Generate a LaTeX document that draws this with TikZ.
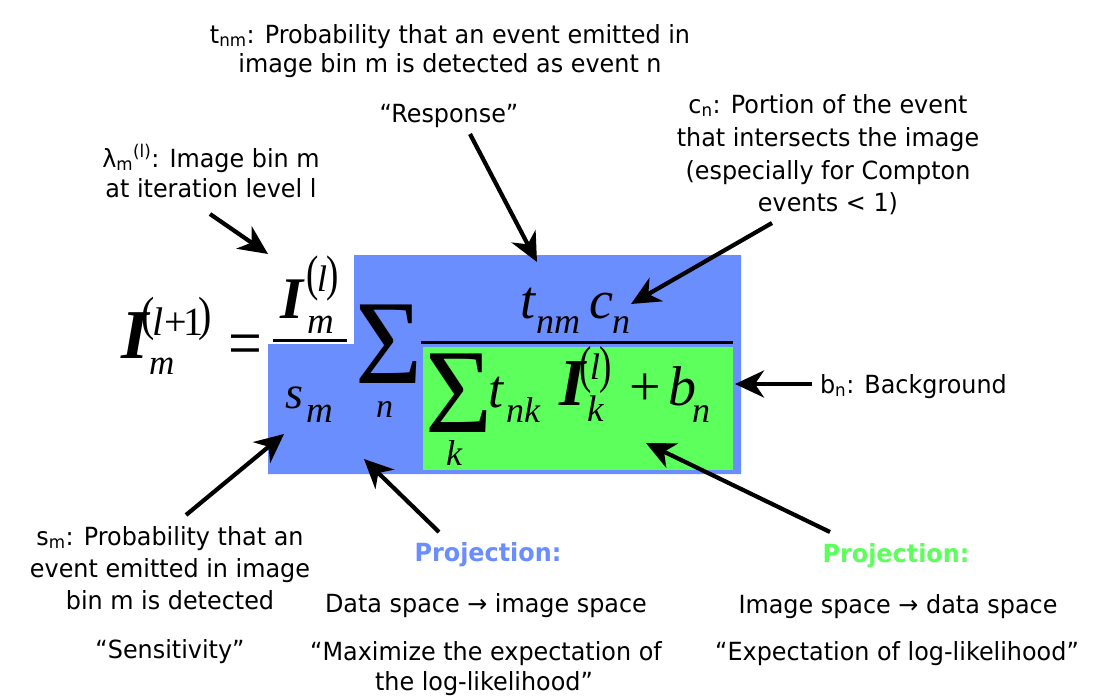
\documentclass[tikz,border=0pt]{standalone}
\usepackage{fontspec}
\usepackage{graphicx}
\setmainfont[FakeStretch=0.955]{DejaVu Sans}
\newfontfamily\tms{Liberation Serif}
\usetikzlibrary{arrows.meta}
\definecolor{eqblue}{RGB}{107,142,255}
\definecolor{eqgreen}{RGB}{92,255,92}
% stretched parenthesis: #1 glyph, #2 vertical scale, #3 raise
\newcommand\tp[3]{\raisebox{#3}{\scalebox{1}[#2]{#1}}}
\tikzset{
  lbl/.style={font=\fontsize{25}{30}\selectfont, inner sep=0pt, outer sep=0pt, anchor=base},
  vv/.style={font=\tms\itshape\fontsize{#1}{#1}\selectfont, inner sep=0pt, outer sep=0pt, anchor=base west},
  bi/.style={font=\tms\bfseries\itshape\fontsize{#1}{#1}\selectfont, inner sep=0pt, outer sep=0pt, anchor=base west},
  up/.style={font=\tms\fontsize{#1}{#1}\selectfont, inner sep=0pt, outer sep=0pt, anchor=base west},
  arr/.style={line width=4.2pt, -{Stealth[length=29pt,width=27pt,inset=9pt]}},
  fracline/.style={line width=3pt},
}
\begin{document}
\begin{tikzpicture}[x=1pt,y=-1pt]
\useasboundingbox (0,0) rectangle (1109,697);
\fill[white] (0,0) rectangle (1109,697);
% coloured backgrounds
\fill[eqblue] (354,255) -- (741,255) -- (741,474) -- (268,474) -- (268,344) -- (354,344) -- cycle;
\fill[eqgreen] (423,347) rectangle (733,470);
\draw[fracline] (273,340.5) -- (347,340.5);
\draw[fracline] (421,342) -- (733,342);
% left side
\node[bi=70] (fI) at (121,358) {I};
\node[up=40] (fIsup) at (141,335) {\tp{(}{1.2}{5pt}\kern-2.3pt\textit{l}\kern0.9pt+\kern-2.6pt1\kern-5pt\tp{)}{1.2}{5pt}};
\node[vv=35] (fIsub) at (149,374) {m};
\node[up=60] (feq) at (228,366) {\scalebox{1}[1.15]{=}};
% small fraction
\node[bi=59] (nI) at (280,318) {I};
\node[up=37] (nIsup) at (306,291) {\tp{(}{1.35}{1pt}\kern-1.5pt\textit{l}\kern-1pt\tp{)}{1.35}{1pt}};
\node[vv=37] (nIsub) at (307,333) {m};
\node[vv=46] (fs) at (285,408) {s};
\node[vv=37] (fsm) at (306,422) {m};
% outer sum
\node[up=120] (sig1) at (355,383) {\scalebox{0.96}[1]{Σ}};
\node[vv=34] (sig1n) at (376,417) {n};
% numerator
\node[vv=54] (tt) at (520,318) {t};
\node[vv=36] (ttnm) at (536,333) {nm};
\node[vv=54] (cc) at (589,318) {c};
\node[vv=36] (ccn) at (612,333) {n};
% denominator
\node[up=120] (sig2) at (425,432) {\scalebox{0.96}[1]{Σ}};
\node[vv=36] (sig2k) at (446,465) {k};
\node[vv=54] (dt) at (488,407) {t};
\node[vv=36] (dtnk) at (506,422) {nk};
\node[bi=67] (dI) at (559,405) {I};
\node[up=37] (dIsup) at (579,379) {\tp{(}{1.4}{-3pt}\kern-1.5pt\textit{l}\kern-1pt\tp{)}{1.4}{-3pt}};
\node[vv=37] (dIk) at (587,421) {k};
\node[up=56] (plus) at (629,405) {+};
\node[vv=56] (bb) at (668,405) {b};
\node[vv=36] (bbn) at (692,422) {n};
% labels
\node[lbl] (tnm1) at (450,43) {t\textsubscript{nm}: Probability that an event emitted in};
\node[lbl] (tnm2) at (450,72) {image bin m is detected as event n};
\node[lbl] (resp) at (449,122) {“Response”};
\node[lbl] (lam1) at (211,167) {λ\textsubscript{m}\textsuperscript{(l)}: Image bin m};
\node[lbl] (lam2) at (211,197) {at iteration level l};
\node[lbl] (cn1) at (828,113) {c\textsubscript{n}: Portion of the event};
\node[lbl] (cn2) at (828,146) {that intersects the image};
\node[lbl] (cn3) at (828,179) {(especially for Compton};
\node[lbl] (cn4) at (828,211) {events < 1)};
\node[lbl, anchor=base west] (bn) at (820,393) {b\textsubscript{n}: Background};
\node[lbl] (sm1) at (170,545) {s\textsubscript{m}: Probability that an};
\node[lbl] (sm2) at (170,577) {event emitted in image};
\node[lbl] (sm3) at (170,609) {bin m is detected};
\node[lbl] (sens) at (170,658) {“Sensitivity”};
\node[lbl, text=eqblue, font=\bfseries\fontsize{25}{30}\selectfont] (proj1) at (488,561) {Projection:};
\node[lbl] (ds) at (486,612) {Data space → image space};
\node[lbl] (max1) at (486,660) {“Maximize the expectation of};
\node[lbl] (max2) at (484,690) {the log-likelihood”};
\node[lbl, text=eqgreen, font=\bfseries\fontsize{25}{30}\selectfont] (proj2) at (896,562) {Projection:};
\node[lbl] (isp) at (898,613) {Image space → data space};
\node[lbl] (expl) at (897,660) {“Expectation of log-likelihood”};
% arrows
\coordinate (a1s) at (210,214); \coordinate (a1e) at (268,254);
\coordinate (a2s) at (470,134); \coordinate (a2e) at (537,262);
\coordinate (a3s) at (772,223); \coordinate (a3e) at (631,304);
\coordinate (a4s) at (812,384); \coordinate (a4e) at (735,384);
\coordinate (a5s) at (186,515); \coordinate (a5e) at (284,434);
\coordinate (a6s) at (439,532); \coordinate (a6e) at (364,459);
\coordinate (a7s) at (830,532); \coordinate (a7e) at (646,443);
\draw[arr] (a1s) -- (a1e);
\draw[arr] (a2s) -- (a2e);
\draw[arr] (a3s) -- (a3e);
\draw[arr] (a4s) -- (a4e);
\draw[arr] (a5s) -- (a5e);
\draw[arr] (a6s) -- (a6e);
\draw[arr] (a7s) -- (a7e);
\end{tikzpicture}
\end{document}
